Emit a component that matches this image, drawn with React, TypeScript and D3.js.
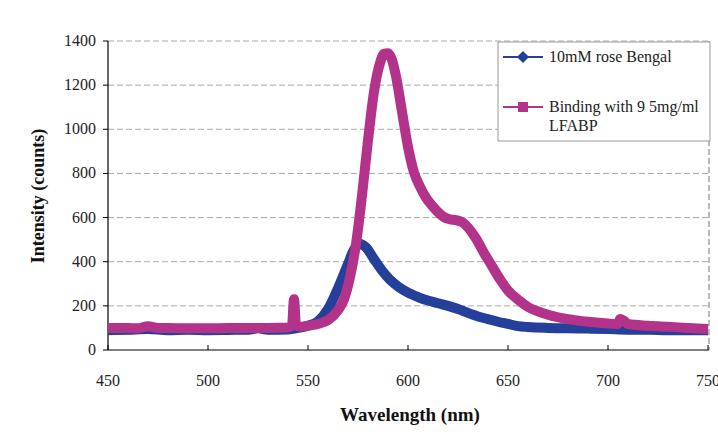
import React from "react";
import * as d3 from "d3";

const xTicks = [450, 500, 550, 600, 650, 700, 750];
const yTicks = [0, 200, 400, 600, 800, 1000, 1200, 1400];

const roseWl = [450, 460, 470, 480, 490, 500, 510, 520, 525, 530, 540, 545, 550, 555, 560, 565, 570, 573, 576, 579, 583, 587, 591, 595, 600, 605, 610, 615, 620, 625, 630, 635, 640, 645, 650, 655, 660, 670, 680, 690, 700, 710, 720, 730, 740, 750];
const roseVal = [90, 92, 95, 90, 92, 90, 91, 92, 98, 92, 93, 100, 110, 130, 185, 280, 390, 455, 480, 465, 412, 360, 318, 288, 260, 240, 224, 212, 200, 186, 168, 152, 140, 128, 118, 108, 104, 100, 98, 97, 95, 92, 92, 90, 90, 90];

const bindWl = [450, 460, 465, 470, 475, 480, 490, 500, 510, 520, 530, 540, 542, 543, 544, 546, 550, 555, 560, 565, 568, 571, 574, 577, 580, 583, 586, 588, 590, 592, 594, 597, 600, 603, 606, 609, 612, 615, 618, 621, 624, 627, 630, 634, 638, 642, 646, 650, 655, 660, 665, 670, 680, 690, 700, 705, 706, 708, 710, 720, 730, 740, 750];
const bindVal = [100, 100, 98, 108, 100, 100, 98, 98, 100, 100, 100, 102, 110, 230, 115, 105, 110, 118, 135, 180, 230, 330, 480, 700, 950, 1170, 1300, 1342, 1345, 1315, 1240, 1080, 920, 805, 740, 690, 655, 625, 602, 592, 588, 580, 555, 505, 440, 380, 320, 270, 228, 195, 175, 160, 140, 128, 120, 118, 140, 132, 118, 110, 105, 100, 95];

const seriesNames = ["10mM rose Bengal", "Binding with 9 5mg/ml", "LFABP"];
const BLUE = "#24409a";
const MAG = "#b3338a";

export default function App() {
  const x = d3.scaleLinear().domain([450, 750]).range([108, 708]);
  const y = d3.scaleLinear().domain([0, 1400]).range([350, 41]);
  const line = d3
    .line<[number, number]>()
    .x((d) => x(d[0]))
    .y((d) => y(d[1]))
    .curve(d3.curveMonotoneX);
  const rose = roseWl.map((w, i) => [w, roseVal[i]] as [number, number]);
  const bind = bindWl.map((w, i) => [w, bindVal[i]] as [number, number]);
  const font = "'Liberation Serif', 'Times New Roman', serif";

  return (
    <svg width={718} height={443} style={{ position: "absolute", left: 0, top: 0, background: "#fff" }}>
      {/* grid */}
      {yTicks.filter((t) => t > 0).map((t) => (
        <line key={t} x1={108} x2={709} y1={y(t)} y2={y(t)} stroke="#888" strokeWidth={1} strokeDasharray="6,3" opacity={0.7} />
      ))}
      <line x1={709} x2={709} y1={41} y2={350} stroke="#777" strokeWidth={1} strokeDasharray="6,3" />
      {/* axes */}
      <line x1={108} x2={108} y1={41} y2={350} stroke="#000" strokeWidth={1.2} />
      <line x1={108} x2={709} y1={350} y2={350} stroke="#000" strokeWidth={1.2} />
      {yTicks.map((t) => (
        <g key={t}>
          <line x1={103} x2={108} y1={y(t)} y2={y(t)} stroke="#000" />
          <text x={96} y={y(t) + 5} textAnchor="end" fontFamily={font} fontSize={16} fill="#222">{t}</text>
        </g>
      ))}
      {xTicks.map((t) => (
        <g key={t}>
          <line x1={x(t)} x2={x(t)} y1={345} y2={350} stroke="#000" />
          <text x={x(t)} y={386} textAnchor="middle" fontFamily={font} fontSize={16} fill="#222">{t}</text>
        </g>
      ))}
      {/* series */}
      <path d={line(rose) || ""} fill="none" stroke={BLUE} strokeWidth={10} strokeLinejoin="round" />
      <path d={line(bind) || ""} fill="none" stroke={MAG} strokeWidth={10} strokeLinejoin="round" />
      {/* axis titles */}
      <text x={410} y={421} textAnchor="middle" fontFamily={font} fontSize={19} fontWeight="bold" fill="#111">Wavelength (nm)</text>
      <text transform="translate(44,196) rotate(-90)" textAnchor="middle" fontFamily={font} fontSize={18} fontWeight="bold" fill="#111">Intensity (counts)</text>
      {/* legend */}
      <rect x={498} y={42} width={212} height={99} fill="#fff" stroke="#999" strokeWidth={1} />
      <line x1={503} x2={543} y1={57} y2={57} stroke={BLUE} strokeWidth={2} />
      <path d={`M523,51 L529,57 L523,63 L517,57 Z`} fill={BLUE} />
      <text x={549} y={62} fontFamily={font} fontSize={16} fill="#222">{seriesNames[0]}</text>
      <line x1={503} x2={543} y1={107} y2={107} stroke={MAG} strokeWidth={2} />
      <rect x={518} y={102} width={10} height={10} fill={MAG} />
      <text x={549} y={112} fontFamily={font} fontSize={16} fill="#222">{seriesNames[1]}</text>
      <text x={549} y={131} fontFamily={font} fontSize={16} fill="#222">{seriesNames[2]}</text>
    </svg>
  );
}
